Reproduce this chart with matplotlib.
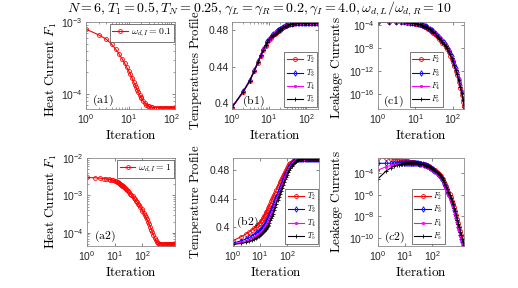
import numpy as np
import matplotlib
matplotlib.use("Agg")
import matplotlib.pyplot as plt
from matplotlib.ticker import NullFormatter

plt.rcParams['font.family'] = ['Liberation Sans', 'DejaVu Sans']
plt.rcParams['mathtext.fontset'] = 'cm'

# ---- first row (omega_dI = 0.1), iterations sampled along the log axis ----
it_r1 = [1, 2, 3, 4, 5, 6, 7, 8, 9, 10, 11, 12, 13, 14, 15, 16, 17, 18, 19, 20,
         22, 24, 26, 28, 30,
         33, 36, 40, 44, 48, 53, 58, 64, 70, 77, 85, 93, 100,
         110, 120, 130, 145, 160, 175, 190, 200]

logF1_a1 = [-3.10, -3.18, -3.24, -3.31, -3.38, -3.45, -3.51, -3.57, -3.63, -3.68,
            -3.73, -3.78, -3.83, -3.87, -3.91, -3.95, -3.98, -4.01, -4.04, -4.06,
            -4.10, -4.13, -4.15, -4.165, -4.175,
            -4.183, -4.187, -4.19, -4.19, -4.19, -4.19, -4.19, -4.19, -4.19, -4.19, -4.19, -4.19, -4.19,
            -4.19, -4.19, -4.19, -4.19, -4.19, -4.19, -4.19, -4.19]

T2_b1 = [.3954, .4122, .4240, .4348, .4442, .4517, .4578, .4627, .4665, .4695,
         .4713, .4731, .4745, .4757, .4768, .4777, .4786, .4794, .4801, .4807,
         .4818, .4829, .4838, .4845, .4850,
         .4856, .4861, .4866, .4869, .4871, .4872, .4873, .4874, .4874, .4875, .4875, .4875, .4875,
         .4875, .4875, .4875, .4875, .4875, .4875, .4875, .4875]
T3_b1 = [.3958, .4130, .4252, .4362, .4457, .4532, .4592, .4640, .4677, .4707,
         .4725, .4742, .4755, .4767, .4778, .4787, .4795, .4802, .4809, .4815,
         .4825, .4835, .4843, .4850, .4855,
         .4861, .4865, .4869, .4872, .4874, .4875, .4875, .4876, .4876, .4876, .4876, .4876, .4876,
         .4876, .4876, .4876, .4876, .4876, .4876, .4876, .4876]
T4_b1 = [.3957, .4128, .4250, .4359, .4454, .4529, .4589, .4637, .4674, .4704,
         .4722, .4739, .4752, .4764, .4775, .4784, .4793, .4800, .4807, .4813,
         .4823, .4833, .4842, .4849, .4854,
         .4860, .4864, .4869, .4871, .4873, .4874, .4875, .4876, .4876, .4876, .4876, .4876, .4876,
         .4876, .4876, .4876, .4876, .4876, .4876, .4876, .4876]
T5_b1 = [.3956, .4127, .4247, .4356, .4450, .4525, .4585, .4633, .4670, .4700,
         .4718, .4735, .4748, .4760, .4771, .4780, .4789, .4796, .4803, .4809,
         .4820, .4830, .4839, .4846, .4851,
         .4857, .4862, .4867, .4870, .4872, .4873, .4874, .4875, .4875, .4875, .4875, .4875, .4875,
         .4875, .4875, .4875, .4875, .4875, .4875, .4875, .4875]

logF2_c1 = [-3.50, -3.51, -3.52, -3.54, -3.56, -3.59, -3.63, -3.67, -3.71, -3.77,
            -3.82, -3.88, -3.94, -4.01, -4.08, -4.16, -4.24, -4.33, -4.41, -4.50,
            -4.66, -4.83, -5.00, -5.16, -5.31,
            -5.56, -5.81, -6.13, -6.42, -6.71, -7.06, -7.39, -7.80, -8.22, -8.72, -9.31, -9.92, -10.45,
            -11.21, -11.96, -12.72, -13.85, -14.98, -16.14, -17.35, -18.10]
logF3_c1 = [-3.49, -3.50, -3.51, -3.52, -3.54, -3.56, -3.59, -3.62, -3.66, -3.70,
            -3.74, -3.79, -3.84, -3.90, -3.96, -4.03, -4.10, -4.18, -4.25, -4.33,
            -4.47, -4.62, -4.79, -4.93, -5.08,
            -5.31, -5.54, -5.85, -6.12, -6.39, -6.72, -7.03, -7.43, -7.85, -8.32, -8.88, -9.47, -10.01,
            -10.75, -11.49, -12.23, -13.34, -14.45, -15.58, -16.80, -18.30]
logF4_c1 = [-3.49, -3.50, -3.51, -3.52, -3.54, -3.57, -3.60, -3.63, -3.67, -3.71,
            -3.76, -3.81, -3.86, -3.92, -3.98, -4.05, -4.12, -4.20, -4.28, -4.36,
            -4.50, -4.66, -4.82, -4.97, -5.11,
            -5.35, -5.58, -5.89, -6.17, -6.44, -6.77, -7.09, -7.50, -7.91, -8.39, -8.96, -9.55, -10.08,
            -10.82, -11.57, -12.31, -13.43, -14.54, -15.68, -16.88, -17.95]
logF5_c1 = [-3.50, -3.51, -3.52, -3.53, -3.55, -3.58, -3.61, -3.65, -3.69, -3.74,
            -3.79, -3.84, -3.90, -3.96, -4.03, -4.10, -4.18, -4.26, -4.34, -4.42,
            -4.57, -4.73, -4.90, -5.05, -5.20,
            -5.44, -5.68, -6.00, -6.28, -6.56, -6.90, -7.22, -7.63, -8.05, -8.54, -9.12, -9.72, -10.25,
            -11.00, -11.75, -12.50, -13.63, -14.75, -15.90, -17.10, -17.90]

# ---- second row (omega_dI = 1) ----
it_r2 = [1, 2, 3, 4, 5, 6, 7, 8, 9, 10, 11, 12, 13, 14, 15, 16, 17, 18, 19, 20,
         22, 24, 26, 28, 30,
         33, 36, 40, 44, 48, 53, 58, 64, 70, 77, 85, 93, 100,
         110, 120, 130, 145, 160, 175, 190, 210, 230, 250, 275, 300, 330, 360, 400,
         440, 480, 530, 580, 640, 700, 770, 850, 930, 1000,
         1100, 1200, 1300, 1400, 1500]

logF1_a2 = [-2.52, -2.53, -2.54, -2.55, -2.56, -2.57, -2.58, -2.59, -2.60, -2.61,
            -2.625, -2.64, -2.655, -2.67, -2.685, -2.70, -2.715, -2.73, -2.745, -2.76,
            -2.78, -2.81, -2.84, -2.865, -2.89,
            -2.92, -2.95, -2.99, -3.02, -3.06, -3.10, -3.14, -3.18, -3.22, -3.265, -3.31, -3.36, -3.41,
            -3.465, -3.52, -3.57, -3.64, -3.71, -3.77, -3.84, -3.92, -3.99, -4.06, -4.13, -4.19, -4.24,
            -4.27, -4.29, -4.30, -4.30, -4.30, -4.30, -4.30, -4.30, -4.30, -4.30, -4.30, -4.30,
            -4.30, -4.30, -4.30, -4.30, -4.30]

T2_b2 = [.3816, .3872, .3908, .3938, .3965, .3990, .4012, .4032, .4050, .4065,
         .4088, .4110, .4131, .4152, .4172, .4192, .4211, .4230, .4248, .4265,
         .4298, .4330, .4360, .4388, .4415,
         .4450, .4483, .4525, .4561, .4592, .4627, .4657, .4690, .4718, .4747, .4775, .4799, .4828,
         .4852, .4872, .4888, .4906, .4920, .4931, .4939, .4945, .4949, .4951, .4953, .4954, .4955,
         .4955, .4955, .4955, .4955, .4955, .4955, .4955, .4955, .4955, .4955, .4955, .4955,
         .4955, .4955, .4955, .4955, .4955]
T3_b2 = [.3783, .3815, .3840, .3862, .3882, .3900, .3917, .3933, .3948, .3962,
         .3978, .3995, .4012, .4030, .4048, .4065, .4083, .4100, .4117, .4133,
         .4167, .4200, .4233, .4265, .4295,
         .4337, .4377, .4425, .4467, .4503, .4545, .4580, .4620, .4656, .4690, .4725, .4756, .4785,
         .4815, .4840, .4860, .4884, .4903, .4917, .4928, .4938, .4944, .4948, .4951, .4953, .4954,
         .4955, .4955, .4955, .4955, .4955, .4955, .4955, .4955, .4955, .4955, .4955, .4955,
         .4955, .4955, .4955, .4955, .4955]
T4_b2 = [.3772, .3795, .3815, .3833, .3850, .3866, .3882, .3897, .3911, .3925,
         .3940, .3955, .3971, .3987, .4003, .4020, .4037, .4053, .4069, .4085,
         .4118, .4151, .4183, .4215, .4245,
         .4289, .4330, .4380, .4424, .4462, .4505, .4543, .4585, .4622, .4659, .4696, .4729, .4762,
         .4794, .4820, .4843, .4869, .4891, .4906, .4918, .4931, .4938, .4944, .4948, .4951, .4953,
         .4954, .4955, .4955, .4955, .4955, .4955, .4955, .4955, .4955, .4955, .4955, .4955,
         .4955, .4955, .4955, .4955, .4955]
T5_b2 = [.3765, .3778, .3792, .3806, .3820, .3834, .3848, .3862, .3876, .3889,
         .3903, .3917, .3931, .3946, .3961, .3976, .3991, .4006, .4021, .4036,
         .4067, .4098, .4130, .4161, .4192,
         .4237, .4280, .4330, .4376, .4416, .4461, .4501, .4546, .4585, .4626, .4665, .4701, .4733,
         .4768, .4796, .4820, .4849, .4875, .4892, .4905, .4920, .4930, .4937, .4943, .4948, .4951,
         .4953, .4955, .4955, .4955, .4955, .4955, .4955, .4955, .4955, .4955, .4955, .4955,
         .4955, .4955, .4955, .4955, .4955]

logF2_c2 = [-2.55, -2.60, -2.65, -2.69, -2.73, -2.76, -2.79, -2.81, -2.83, -2.85,
            -2.865, -2.88, -2.895, -2.91, -2.92, -2.93, -2.94, -2.95, -2.96, -2.97,
            -2.985, -3.00, -3.01, -3.025, -3.04,
            -3.055, -3.07, -3.10, -3.12, -3.15, -3.185, -3.22, -3.26, -3.30, -3.35, -3.40, -3.46, -3.51,
            -3.58, -3.65, -3.72, -3.83, -3.93, -4.04, -4.14, -4.28, -4.42, -4.56, -4.79, -5.00, -5.21,
            -5.42, -5.70, -5.96, -6.22, -6.52, -6.81, -7.14, -7.47, -7.84, -8.24, -8.61, -8.95,
            -9.35, -9.71, -10.03, -10.32, -10.57]
logF3_c2 = [-3.07, -3.06, -3.05, -3.04, -3.03, -3.02, -3.02, -3.02, -3.02, -3.02,
            -3.02, -3.02, -3.02, -3.02, -3.025, -3.03, -3.03, -3.035, -3.035, -3.04,
            -3.045, -3.05, -3.06, -3.07, -3.08,
            -3.095, -3.11, -3.14, -3.165, -3.19, -3.23, -3.265, -3.31, -3.35, -3.405, -3.46, -3.52, -3.58,
            -3.66, -3.74, -3.81, -3.93, -4.04, -4.15, -4.26, -4.41, -4.56, -4.71, -4.94, -5.16, -5.39,
            -5.61, -5.91, -6.18, -6.46, -6.77, -7.07, -7.42, -7.76, -8.14, -8.56, -8.94, -9.28,
            -9.69, -10.06, -10.38, -10.62, -10.75]
logF4_c2 = [-3.69, -3.38, -3.26, -3.20, -3.16, -3.14, -3.12, -3.11, -3.10, -3.10,
            -3.095, -3.09, -3.09, -3.09, -3.09, -3.09, -3.09, -3.09, -3.095, -3.10,
            -3.105, -3.11, -3.12, -3.13, -3.14,
            -3.155, -3.17, -3.20, -3.225, -3.25, -3.29, -3.325, -3.37, -3.41, -3.465, -3.52, -3.58, -3.64,
            -3.72, -3.80, -3.87, -3.99, -4.10, -4.21, -4.32, -4.47, -4.62, -4.77, -5.00, -5.22, -5.45,
            -5.67, -5.97, -6.24, -6.52, -6.83, -7.13, -7.48, -7.82, -8.20, -8.62, -9.00, -9.34,
            -9.74, -10.10, -10.42, -10.66, -10.72]
logF5_c2 = [-4.50, -3.78, -3.48, -3.33, -3.24, -3.18, -3.14, -3.11, -3.09, -3.07,
            -3.06, -3.05, -3.045, -3.04, -3.04, -3.04, -3.04, -3.04, -3.045, -3.05,
            -3.055, -3.06, -3.07, -3.08, -3.09,
            -3.105, -3.12, -3.15, -3.17, -3.20, -3.235, -3.27, -3.31, -3.35, -3.40, -3.45, -3.51, -3.56,
            -3.63, -3.70, -3.77, -3.88, -3.98, -4.09, -4.19, -4.33, -4.47, -4.61, -4.84, -5.05, -5.26,
            -5.47, -5.75, -6.01, -6.27, -6.57, -6.86, -7.19, -7.52, -7.89, -8.29, -8.66, -9.00,
            -9.40, -9.76, -10.08, -10.37, -10.62]

title = (r'$N=6, T_1=0.5, T_N=0.25, \gamma_L=\gamma_R=0.2, '
         r'\gamma_I=4.0, \omega_{d,L}/\omega_{d,R}=10$')

styles = [dict(color='red', marker='o', mfc='none', ms=2.8),
          dict(color='blue', marker='d', mfc='none', ms=2.8),
          dict(color='magenta', marker='.', ms=3.4),
          dict(color='black', marker='+', ms=3.2)]

W, H = 518, 288
fig = plt.figure(figsize=(W / 100, H / 100), dpi=100)


def make_ax(left, top, right, bottom):
    ax = fig.add_axes([left / W, 1 - bottom / H, (right - left) / W, (bottom - top) / H])
    for s in ax.spines.values():
        s.set_color('#8a8a8a')
        s.set_linewidth(0.6)
    ax.tick_params(which='both', direction='in', top=True, right=True,
                   color='#555555', labelsize=7.5, labelcolor='#262626', pad=2.5)
    ax.tick_params(which='major', length=2.5, width=0.5)
    ax.tick_params(which='minor', length=1.4, width=0.4)
    ax.set_xscale('log')
    ax.set_xticks([1, 10, 100])
    ax.xaxis.set_minor_formatter(NullFormatter())
    return ax


def finish(ax, ylabel, ylx, yly, panel, px, py, ysize=9.5):
    ax.set_ylabel(ylabel, fontsize=ysize, va='center')
    ax.yaxis.set_label_coords(ylx, yly)
    ax.set_xlabel(r'$\mathrm{Iteration}$', fontsize=9.5, va='center')
    ax.xaxis.set_label_coords(0.5, -0.31)
    ax.text(px, py, panel, transform=ax.transAxes, fontsize=8.5, va='center', ha='left')


def one_legend(ax, label):
    leg = ax.legend([label], loc='upper right', bbox_to_anchor=(0.99, 0.98),
                    fontsize=7, handlelength=1.6, handletextpad=0.3, borderpad=0.25,
                    borderaxespad=0.0, fancybox=False, framealpha=1)
    leg.get_frame().set_edgecolor('#444444')
    leg.get_frame().set_linewidth(0.5)


def four_legend(ax, labels, anchor):
    leg = ax.legend(labels, loc='lower right', bbox_to_anchor=anchor, fontsize=5.5,
                    handlelength=2.2, handletextpad=0.3, labelspacing=0.25,
                    borderpad=0.3, borderaxespad=0.0, fancybox=False, framealpha=1)
    leg.get_frame().set_edgecolor('#444444')
    leg.get_frame().set_linewidth(0.5)


# (a1)
ax = make_ax(86, 22, 175, 109)
ax.plot(it_r1, 10 ** np.array(logF1_a1), lw=0.8, mew=0.6, **styles[0])
ax.set_yscale('log')
ax.set_xlim(1, 122)
ax.set_ylim(10 ** -4.21, 1e-3)
ax.set_yticks([1e-4, 1e-3])
ax.yaxis.set_minor_formatter(NullFormatter())
one_legend(ax, r'$\omega_{d,I}=0.1$')
finish(ax, r'$\mathrm{Heat\ Current}\ F_1$', -0.39, 0.45, r'$\mathrm{(a1)}$', 0.064, 0.095)

# (b1)
ax = make_ax(232, 22, 318, 109)
for ys, st in zip([T2_b1, T3_b1, T4_b1, T5_b1], styles):
    ax.plot(it_r1, ys, lw=0.8, mew=0.6, **st)
ax.set_xlim(1, 205)
ax.set_ylim(0.3938, 0.4887)
ax.set_yticks([0.40, 0.44, 0.48])
ax.set_yticklabels(['0.4', '0.44', '0.48'])
four_legend(ax, [r'$T_2$', r'$T_3$', r'$T_4$', r'$T_5$'], (0.99, 0.02))
finish(ax, r'$\mathrm{Temperatures\ Profile}$', -0.43, 0.44, r'$\mathrm{(b1)}$', 0.113, 0.092,
       ysize=9.2)

# (c1)
ax = make_ax(378, 22, 464, 109)
for ys, st in zip([logF2_c1, logF3_c1, logF4_c1, logF5_c1], styles):
    ax.plot(it_r1, 10 ** np.array(ys), lw=0.8, mew=0.6, **st)
ax.set_yscale('log')
ax.set_xlim(1, 200)
ax.set_ylim(10 ** -18.6, 10 ** -3.48)
ax.set_yticks([1e-16, 1e-12, 1e-8, 1e-4])
ax.yaxis.set_minor_formatter(NullFormatter())
ax.minorticks_off()
four_legend(ax, [r'$F_2$', r'$F_3$', r'$F_4$', r'$F_5$'], (0.756, 0.02))
finish(ax, r'$\mathrm{Leakage\ Currents}$', -0.48, 0.47, r'$\mathrm{(c1)}$', 0.062, 0.092)

# (a2)
ax = make_ax(87, 158, 175, 245.5)
ax.plot(it_r2, 10 ** np.array(logF1_a2), lw=0.8, mew=0.6, **styles[0])
ax.set_yscale('log')
ax.set_xlim(1, 1500)
ax.set_ylim(10 ** -4.34, 1e-2)
ax.set_yticks([1e-4, 1e-3, 1e-2])
ax.yaxis.set_minor_formatter(NullFormatter())
one_legend(ax, r'$\omega_{d,I}=1$')
finish(ax, r'$\mathrm{Heat\ Current}\ F_1$', -0.41, 0.5, r'$\mathrm{(a2)}$', 0.08, 0.11)

# (b2)
ax = make_ax(233, 158, 319, 245.5)
for ys, st in zip([T2_b2, T3_b2, T4_b2, T5_b2], styles):
    ax.plot(it_r2, ys, lw=0.8, mew=0.6, **st)
ax.set_xlim(1, 1500)
ax.set_ylim(0.375, 0.4962)
ax.set_yticks([0.40, 0.44, 0.48])
ax.set_yticklabels(['0.4', '0.44', '0.48'])
four_legend(ax, [r'$T_2$', r'$T_3$', r'$T_4$', r'$T_5$'], (0.99, 0.017))
finish(ax, r'$\mathrm{Temperature\ Profile}$', -0.434, 0.5, r'$\mathrm{(b2)}$', 0.035, 0.26,
       ysize=9.2)

# (c2)
ax = make_ax(378, 158, 464, 245.5)
for ys, st in zip([logF2_c2, logF3_c2, logF4_c2, logF5_c2], styles):
    ax.plot(it_r2, 10 ** np.array(ys), lw=0.8, mew=0.6, **st)
ax.set_yscale('log')
ax.set_xlim(1, 1500)
ax.set_ylim(10 ** -10.7, 10 ** -2.57)
ax.set_yticks([1e-10, 1e-8, 1e-6, 1e-4])
ax.yaxis.set_minor_formatter(NullFormatter())
four_legend(ax, [r'$F_2$', r'$F_3$', r'$F_4$', r'$F_5$'], (0.78, 0.017))
finish(ax, r'$\mathrm{Leakage\ Currents}$', -0.48, 0.5, r'$(c2)$', 0.07, 0.094)

fig.text(0.5, 0.971, title, ha='center', va='center', fontsize=10)

fig.savefig('out.png', dpi=100)
